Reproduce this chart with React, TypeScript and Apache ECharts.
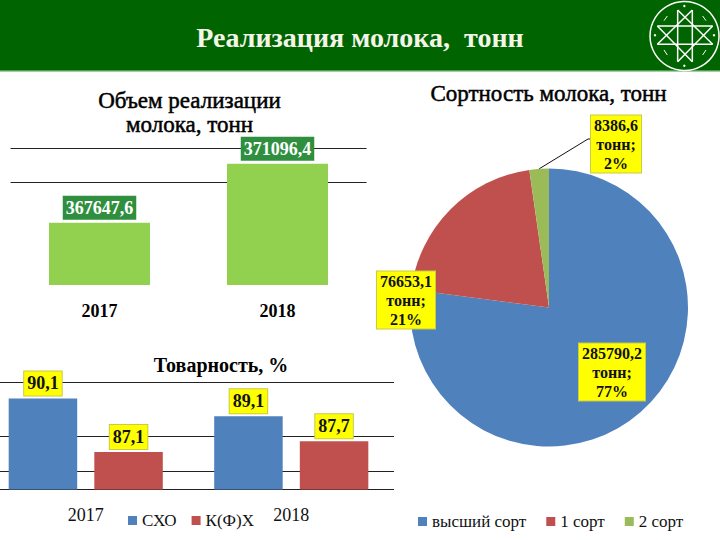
import React, { useEffect, useRef } from "react";
import * as echarts from "echarts";

const FONT = "'Liberation Serif', serif";

const volumeYears = ["2017", "2018"];
const volumeValues = [367647.6, 371096.4];
const volumeLines = [370000, 372000];

const shareYears = ["2017", "2018"];
const shareSkho = [90.1, 89.1];
const shareKfh = [87.1, 87.7];
const shareLines = [85, 86, 88, 91];

const gradeNames = ["высший сорт", "1 сорт", "2 сорт"];
const gradeValues = [285790.2, 76653.1, 8386.6];
const gradeColors = ["#4F81BD", "#C0504D", "#9BBB59"];
const gradeLabelCenters = [[612, 372], [406, 300], [616, 144]];

const comma = (v: number) => String(v).replace(".", ",");

const emblemLines = [
  [52, 78, 218, 78], [52, 133, 218, 133],
  [113, 30, 113, 185], [157, 30, 157, 185],
  [113, 30, 218, 133], [157, 30, 52, 133],
  [113, 185, 218, 78], [157, 185, 52, 78],
  [82, 48, 72, 62], [188, 48, 198, 62], [82, 165, 72, 150], [188, 165, 198, 150],
];
const emblemDots = [[133, 18], [133, 197], [45, 106], [222, 106]];

function linesSeries(name: string, idx: number, values: number[]) {
  return {
    name,
    type: "line",
    xAxisIndex: idx,
    yAxisIndex: idx,
    data: [],
    z: 1,
    silent: true,
    markLine: {
      silent: true,
      z: 1,
      symbol: "none",
      animation: false,
      label: { show: false },
      lineStyle: { color: "#222", width: 1, type: "solid" },
      data: values.map((v) => ({ yAxis: v })),
    },
  };
}

const titleStyle = (size: number, color = "#000", weight: any = "bold", heavy = 0) => ({
  fontFamily: FONT, fontSize: size, fontWeight: weight, color,
  textBorderColor: color, textBorderWidth: heavy,
});

export default function App() {
  const ref = useRef<HTMLDivElement>(null);
  useEffect(() => {
    document.body.style.margin = "0";
    const chart = echarts.init(ref.current!, null, { renderer: "svg" });
    const toEmblem = (v: number) => v / 3;
    chart.setOption({
      animation: false,
      backgroundColor: "#fff",
      graphic: [
        { type: "rect", z: -2, shape: { x: 0, y: 0, width: 720, height: 70 }, style: { fill: "#006400" } },
        { type: "rect", z: -2, shape: { x: 0, y: 70, width: 720, height: 1.5 }, style: { fill: "#4E9E4E" } },
        {
          type: "group", x: 640, y: 0, z: 3,
          children: [
            { type: "circle", shape: { cx: 44.5, cy: 36, r: 34.5 }, style: { fill: "none", stroke: "#fff", lineWidth: 1.5 } },
            ...emblemLines.map((l, i) => ({
              type: "line",
              shape: { x1: toEmblem(l[0]), y1: toEmblem(l[1]), x2: toEmblem(l[2]), y2: toEmblem(l[3]) },
              style: { stroke: "#fff", lineWidth: i < 8 ? 1.5 : 1 },
            })),
            ...emblemDots.map((d) => ({
              type: "circle",
              shape: { cx: toEmblem(d[0]), cy: toEmblem(d[1]), r: 1.2 },
              style: { fill: "#fff" },
            })),
          ],
        },
      ],
      title: [
        { text: "Реализация молока,  тонн", left: 355, top: 18, textAlign: "center", textStyle: titleStyle(28, "#F4F4E8") },
        { text: "Объем реализации", left: 184.5, top: 83.5, textAlign: "center", textStyle: titleStyle(23, "#000", "normal", 0.5) },
        { text: "молока, тонн", left: 184.5, top: 107.5, textAlign: "center", textStyle: titleStyle(23, "#000", "normal", 0.5) },
        { text: "Сортность молока, тонн", left: 543.5, top: 76.5, textAlign: "center", textStyle: titleStyle(23, "#000", "normal", 0.5) },
        { text: "Товарность, %", left: 216, top: 350, textAlign: "center", textStyle: titleStyle(20) },
      ],
      legend: [
        {
          left: 123, top: 507, icon: "rect", itemWidth: 9, itemHeight: 9, itemGap: 15,
          data: ["СХО", "К(Ф)Х"], textStyle: { fontFamily: FONT, fontSize: 17, color: "#111" },
        },
        {
          left: 413, top: 508, icon: "rect", itemWidth: 9, itemHeight: 9, itemGap: 20,
          data: gradeNames, textStyle: { fontFamily: FONT, fontSize: 17, color: "#111" },
        },
      ],
      grid: [
        { left: 10.5, width: 356, top: 148.2, height: 136.8 },
        { left: -17, width: 411, top: 382.3, height: 107.2, outerBoundsMode: "none" },
      ],
      xAxis: [
        {
          type: "category", gridIndex: 0, data: volumeYears,
          axisLine: { show: false }, axisTick: { show: false },
          axisLabel: { margin: 17, fontFamily: FONT, fontSize: 18, fontWeight: "bold", color: "#000" },
        },
        {
          type: "category", gridIndex: 1, data: shareYears,
          axisLine: { show: false }, axisTick: { show: false },
          axisLabel: { margin: 16, fontFamily: FONT, fontSize: 18, color: "#111" },
        },
      ],
      yAxis: [
        { type: "value", gridIndex: 0, min: 364000, max: 372000, show: false, splitLine: { show: false } },
        { type: "value", gridIndex: 1, min: 85, max: 91, show: false, splitLine: { show: false } },
      ],
      series: [
        linesSeries("volumeLines", 0, volumeLines),
        {
          name: "Объем", type: "bar", xAxisIndex: 0, yAxisIndex: 0, z: 2,
          data: volumeValues, barWidth: 101,
          itemStyle: { color: "#92D050" },
          label: {
            show: true, position: "top", distance: 3,
            formatter: (p: any) => comma(p.value),
            fontFamily: FONT, fontSize: 18, fontWeight: "bold", color: "#fff",
            backgroundColor: "#2F8F3F", padding: [3, 3, 3, 3],
          },
        },
        linesSeries("shareLines", 1, shareLines),
        ...[
          { name: "СХО", data: shareSkho, color: "#4F81BD" },
          { name: "К(Ф)Х", data: shareKfh, color: "#C0504D" },
        ].map((s) => ({
          name: s.name, type: "bar", xAxisIndex: 1, yAxisIndex: 1, z: 2,
          data: s.data, barWidth: 68.5, barGap: "25%",
          itemStyle: { color: s.color },
          label: {
            show: true, position: "top", distance: 3,
            formatter: (p: any) => comma(p.value),
            fontFamily: FONT, fontSize: 18, fontWeight: "bold", color: "#111",
            backgroundColor: "#FFFF00", borderColor: "#C9C94A", borderWidth: 1, padding: [3, 3, 3, 3],
          },
        })),
        {
          name: "Сортность", type: "pie",
          center: [549, 307.5], radius: [0, 139], startAngle: 90, clockwise: true,
          percentPrecision: 0, avoidLabelOverlap: false,
          data: gradeNames.map((name, i) => ({
            name, value: gradeValues[i],
            itemStyle: { color: gradeColors[i] },
            labelLine: { show: i === 2 },
          })),
          label: {
            show: true, position: "outside",
            formatter: (p: any) => `${comma(p.value)}\nтонн;\n${p.percent}%`,
            fontFamily: FONT, fontSize: 16, fontWeight: "bold", color: "#111",
            lineHeight: 19, align: "center",
            backgroundColor: "#FFFF00", borderColor: "#C9C94A", borderWidth: 1, padding: [0, 3, 0, 3],
          },
          labelLine: { show: true, lineStyle: { color: "#111", width: 1 } },
          labelLayout: (p: any) => {
            const start = p.labelLinePoints ? p.labelLinePoints[0] : [538, 169];
            return {
              x: gradeLabelCenters[p.dataIndex][0],
              y: gradeLabelCenters[p.dataIndex][1],
              align: "center",
              verticalAlign: "middle",
              labelLinePoints: [start, [588, 139], [592, 139]],
            };
          },
        },
      ],
    });
    return () => chart.dispose();
  }, []);
  return <div ref={ref} style={{ position: "absolute", left: 0, top: 0, width: 720, height: 540 }} />;
}
